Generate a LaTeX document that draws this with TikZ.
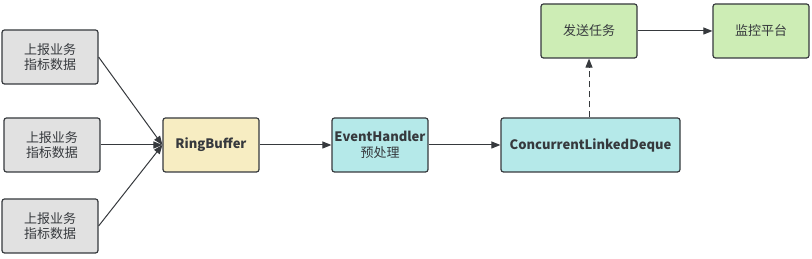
\documentclass[tikz,border=0pt]{standalone}
\usepackage{fontspec}
\setmainfont{Noto Sans CJK SC}
\usetikzlibrary{arrows.meta, positioning}
\definecolor{linec}{HTML}{36393D}
\definecolor{grayc}{HTML}{E1E1E1}
\definecolor{yellowc}{HTML}{F7EDC2}
\definecolor{cyanc}{HTML}{B5E9E9}
\definecolor{greenc}{HTML}{CDEDB5}
\tikzstyle{box}   = [draw=linec, line width=1.2pt, rounded corners=2.5pt, minimum width=96pt, minimum height=54pt, inner sep=1pt, align=center, font=\fontsize{13}{15.5}\selectfont, text=linec]
\tikzstyle{arrow} = [line width=1pt, draw=linec, -{Triangle[length=9pt, width=7pt]}]

\begin{document}
\begin{tikzpicture}[x=1pt, y=1pt]
\useasboundingbox (0,0) rectangle (812,259);

% vstupní data
\node[box, fill=grayc]   (src1) at (50,202)  {上报业务\\指标数据};
\node[box, fill=grayc]   (src2) at (52,114)  {上报业务\\指标数据};
\node[box, fill=grayc]   (src3) at (50,33)   {上报业务\\指标数据};

% zpracování
\node[box, fill=yellowc] (ring)  at (211,114) {\bfseries RingBuffer};
\node[box, fill=cyanc]   (hand)  at (380,114) {\bfseries EventHandler\\预处理};
\node[box, fill=cyanc, minimum width=179pt] (deque) at (590.5,114) {\bfseries ConcurrentLinkedDeque};

% odeslání
\node[box, fill=greenc]  (send)  at (589,228) {发送任务};
\node[box, fill=greenc]  (mon)   at (761,228) {监控平台};

% spojnice
\draw[arrow] (src1.east) -- (ring.west);
\draw[arrow] (src2) -- (ring);
\draw[arrow] (src3.east) -- (ring.west);
\draw[arrow] (ring) -- (hand);
\draw[arrow] (hand) -- (deque);
\draw[arrow, dash pattern=on 6pt off 4pt] (deque.north -| send) -- (send);
\draw[arrow] (send) -- (mon);

\end{tikzpicture}
\end{document}
